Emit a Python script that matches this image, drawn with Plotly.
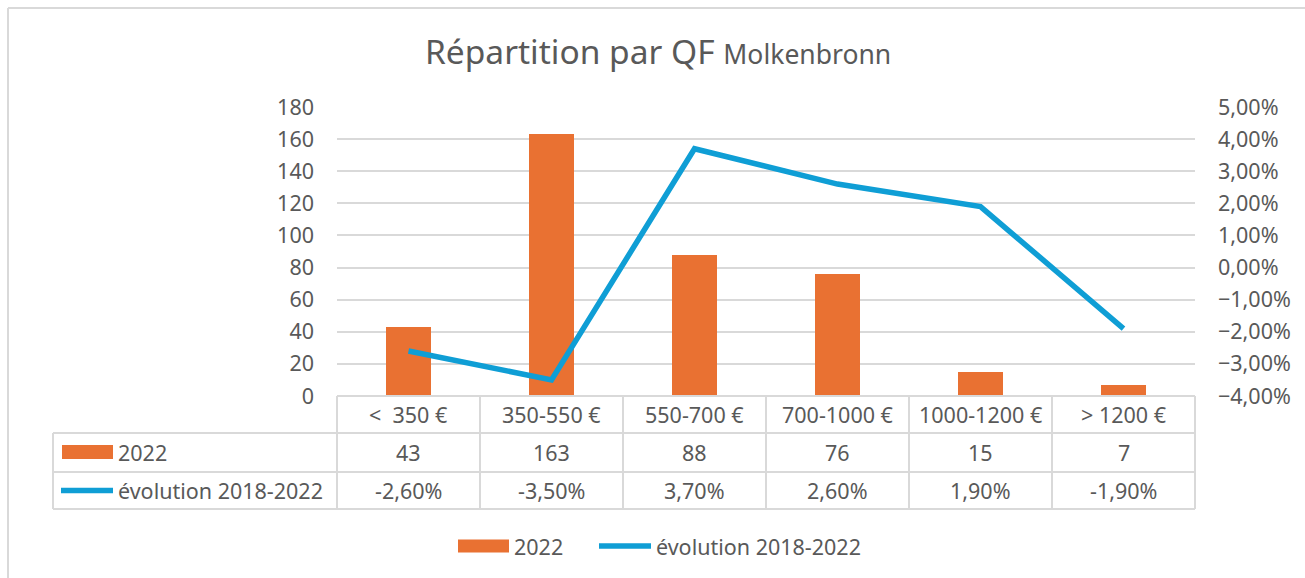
import plotly.graph_objects as go

# Data
categories = ["<  350 €", "350-550 €", "550-700 €", "700-1000 €", "1000-1200 €", "> 1200 €"]
count_2022 = [43, 163, 88, 76, 15, 7]
evolution_2018_2022 = [-0.026, -0.035, 0.037, 0.026, 0.019, -0.019]
series_names = ["2022", "évolution 2018-2022"]

ORANGE = "#E97132"
BLUE = "#0F9ED5"
GRID = "#D9D9D9"
TEXT = "#595959"
FONT = "Noto Sans"
FS = 21.5

W, H = 1305, 578
L, R, T, B = 337, 1195, 107, 396  # plot area in pixels


def px(x):
    return (x - L) / (R - L)


def py(y):
    return (B - y) / (B - T)


def fmt_pct(v):
    return f"{v * 100:.2f}%".replace(".", ",")


fig = go.Figure()
fig.add_trace(go.Bar(
    x=categories, y=count_2022, name=series_names[0],
    marker=dict(color=ORANGE, line=dict(width=0)), width=0.315,
    yaxis="y", showlegend=False,
))
fig.add_trace(go.Scatter(
    x=categories, y=evolution_2018_2022, name=series_names[1],
    mode="lines", line=dict(color=BLUE, width=5.5),
    yaxis="y2", showlegend=False,
))

shapes = []
annotations = []
line_style = dict(color=GRID, width=2)

# chart frame
shapes.append(dict(type="line", xref="paper", yref="paper", x0=px(8), x1=px(W + 5), y0=py(8), y1=py(8), line=line_style))
shapes.append(dict(type="line", xref="paper", yref="paper", x0=px(8), x1=px(8), y0=py(8), y1=py(H + 5), line=line_style))

# data table grid
row_y = [B, 433, 472, 509]
shapes.append(dict(type="line", xref="paper", yref="paper", x0=0, x1=1, y0=py(row_y[0]), y1=py(row_y[0]), line=line_style))
for yy in row_y[1:]:
    shapes.append(dict(type="line", xref="paper", yref="paper", x0=px(53), x1=1, y0=py(yy), y1=py(yy), line=line_style))
shapes.append(dict(type="line", xref="paper", yref="paper", x0=px(53), x1=px(53), y0=py(433), y1=py(509), line=line_style))
for k in range(len(categories) + 1):
    xx = k / len(categories)
    shapes.append(dict(type="line", xref="paper", yref="paper", x0=xx, x1=xx, y0=py(B), y1=py(509), line=line_style))

row_centers = [414.5, 452.5, 490.5]
cell_font = dict(size=FS, color=TEXT)
for i, cat in enumerate(categories):
    annotations.append(dict(x=cat, xref="x", yref="paper", y=py(row_centers[0]), text=cat, showarrow=False,
                            font=cell_font, xanchor="center", yanchor="middle"))
    annotations.append(dict(x=cat, xref="x", yref="paper", y=py(row_centers[1]), text=str(count_2022[i]), showarrow=False,
                            font=cell_font, xanchor="center", yanchor="middle"))
    annotations.append(dict(x=cat, xref="x", yref="paper", y=py(row_centers[2]), text=fmt_pct(evolution_2018_2022[i]), showarrow=False,
                            font=cell_font, xanchor="center", yanchor="middle"))

# legend keys inside the table
shapes.append(dict(type="rect", xref="paper", yref="paper", x0=px(62), x1=px(113), y0=py(445), y1=py(459),
                   fillcolor=ORANGE, line=dict(width=0)))
shapes.append(dict(type="line", xref="paper", yref="paper", x0=px(61), x1=px(113), y0=py(490.5), y1=py(490.5),
                   line=dict(color=BLUE, width=5.5)))
annotations.append(dict(x=px(116), y=py(row_centers[1]), xref="paper", yref="paper", text=series_names[0], showarrow=False,
                        font=cell_font, xanchor="left", yanchor="middle"))
annotations.append(dict(x=px(116), y=py(row_centers[2]), xref="paper", yref="paper", text=series_names[1], showarrow=False,
                        font=cell_font, xanchor="left", yanchor="middle"))

# bottom legend
shapes.append(dict(type="rect", xref="paper", yref="paper", x0=px(458), x1=px(509), y0=py(539.5), y1=py(552.5),
                   fillcolor=ORANGE, line=dict(width=0)))
shapes.append(dict(type="line", xref="paper", yref="paper", x0=px(599), x1=px(651), y0=py(546), y1=py(546),
                   line=dict(color=BLUE, width=5.5)))
annotations.append(dict(x=px(512), y=py(546), xref="paper", yref="paper", text=series_names[0], showarrow=False,
                        font=cell_font, xanchor="left", yanchor="middle"))
annotations.append(dict(x=px(654), y=py(546), xref="paper", yref="paper", text=series_names[1], showarrow=False,
                        font=cell_font, xanchor="left", yanchor="middle"))

# title
annotations.append(dict(
    x=px(658), y=py(51), xref="paper", yref="paper", showarrow=False, xanchor="center", yanchor="middle",
    text="Répartition par QF <span style='font-size:26.5px'>Molkenbronn</span>",
    font=dict(size=33.5, color=TEXT),
))

fig.update_layout(
    width=W, height=H,
    margin=dict(l=L, r=W - R, t=T, b=H - B, pad=0),
    paper_bgcolor="white", plot_bgcolor="white",
    font=dict(family=FONT, color=TEXT, size=FS),
    separators=", ",
    bargap=0,
    showlegend=False,
    xaxis=dict(type="category", range=[-0.5, 5.5], showticklabels=False, showgrid=False,
               zeroline=False, showline=False, ticks=""),
    yaxis=dict(range=[0, 180], tickvals=list(range(0, 181, 20)), showgrid=True, gridcolor=GRID, gridwidth=2,
               zeroline=False, showline=False, ticks="", ticklabelstandoff=22,
               tickfont=dict(size=FS, color=TEXT)),
    yaxis2=dict(range=[-0.04, 0.05], tickvals=[i / 100 for i in range(-4, 6)], tickformat=".2%",
                overlaying="y", side="right", showgrid=False, zeroline=False, showline=False, ticks="",
                ticklabelstandoff=22, tickfont=dict(size=FS, color=TEXT)),
    shapes=shapes,
    annotations=annotations,
)

fig.write_html("out.html")
